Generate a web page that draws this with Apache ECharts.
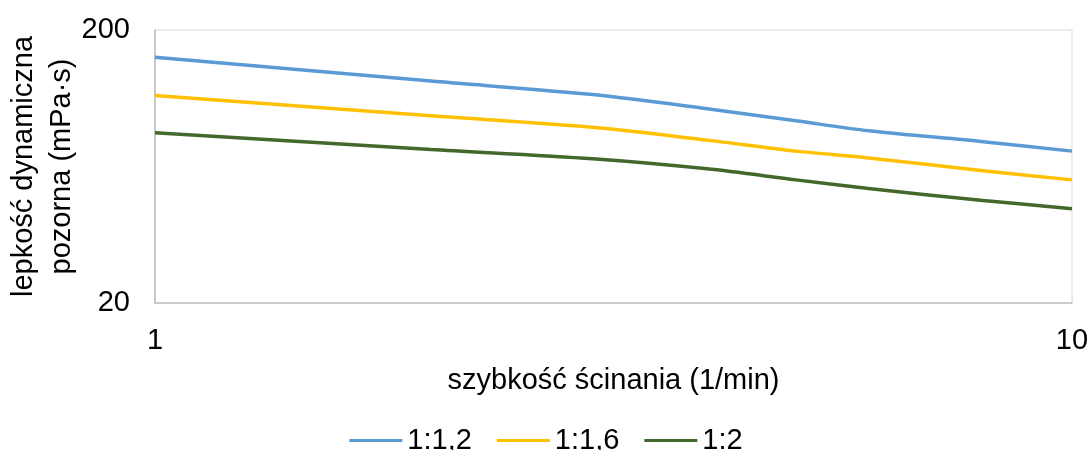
<!DOCTYPE html>
<html>
<head>
<meta charset="utf-8">
<script src="https://cdn.jsdelivr.net/npm/echarts@6/dist/echarts.min.js"></script>
<style>
html,body{margin:0;padding:0;background:#fff;}
#chart{width:1092px;height:450px;}
</style>
</head>
<body>
<div id="chart"></div>
<script>
const shearRates = [1, 2, 3, 4, 5, 6, 8, 10];
const seriesNames = ['1:1,2', '1:1,6', '1:2'];
const visc_1_12 = [159, 130, 116, 103, 93, 85.5, 78, 72];
const visc_1_16 = [115, 97, 88, 79, 72, 68, 61, 56.5];
const visc_1_2 = [84, 73, 67.5, 62, 56.5, 52.5, 47.5, 44.3];
const yTickLabels = [20, 200];
const xTickLabels = [1, 10];
const xTitle = 'szybkość ścinania (1/min)';
const yTitle = 'lepkość dynamiczna\npozorna (mPa·s)';

const colors = ['#5B9BD5', '#FFC000', '#43682B'];
const font = 'Arial, "Liberation Sans", sans-serif';
const fs = 29;
const allData = [visc_1_12, visc_1_16, visc_1_2];

const chart = echarts.init(document.getElementById('chart'), null, {renderer: 'canvas'});
chart.setOption({
  animation: false,
  backgroundColor: '#fff',
  textStyle: {fontFamily: font},
  grid: {left: 155, right: 20, top: 30, bottom: 147, show: true, borderColor: '#d9d9d9', borderWidth: 1, containLabel: false, outerBoundsMode: 'none'},
  legend: {
    data: seriesNames,
    top: 421,
    left: 'center',
    itemWidth: 53,
    itemHeight: 14,
    itemGap: 25,
    textStyle: {fontSize: fs, color: '#000', fontFamily: font, padding: [0, 0, 0, 0]},
    icon: 'path://M0,0 L53,0 L53,3 L0,3 Z'
  },
  xAxis: {
    type: 'log',
    logBase: 10,
    min: 1,
    max: 10,
    name: xTitle,
    nameLocation: 'middle',
    nameGap: 63,
    nameMoveOverlap: false,
    nameTextStyle: {fontSize: fs, color: '#000', fontFamily: font},
    axisLine: {show: true, lineStyle: {color: '#bfbfbf', width: 1.5}},
    axisTick: {show: false},
    splitLine: {show: false},
    axisLabel: {
      fontSize: fs, color: '#000', margin: 23, fontFamily: font,
      formatter: v => xTickLabels.some(t => Math.abs(t - v) < 1e-6) ? String(v) : ''
    }
  },
  yAxis: {
    type: 'log',
    logBase: 10,
    min: 20,
    max: 200,
    name: yTitle,
    nameLocation: 'middle',
    nameRotate: 90,
    nameGap: 74,
    nameMoveOverlap: false,
    nameTextStyle: {fontSize: fs, color: '#000', lineHeight: 38, fontFamily: font},
    axisLine: {show: true, lineStyle: {color: '#bfbfbf', width: 1.5}},
    axisTick: {show: false},
    splitLine: {show: false},
    axisLabel: {
      fontSize: fs, color: '#000', margin: 25, fontFamily: font,
      formatter: v => yTickLabels.some(t => Math.abs(t - v) < 1e-6) ? String(Math.round(v)) : ''
    }
  },
  series: seriesNames.map((n, i) => ({
    name: n,
    type: 'line',
    smooth: 0.3,
    symbol: 'none',
    data: shearRates.map((x, j) => [x, allData[i][j]]),
    lineStyle: {width: 3.5, color: colors[i]},
    itemStyle: {color: colors[i]}
  }))
});
</script>
</body>
</html>
